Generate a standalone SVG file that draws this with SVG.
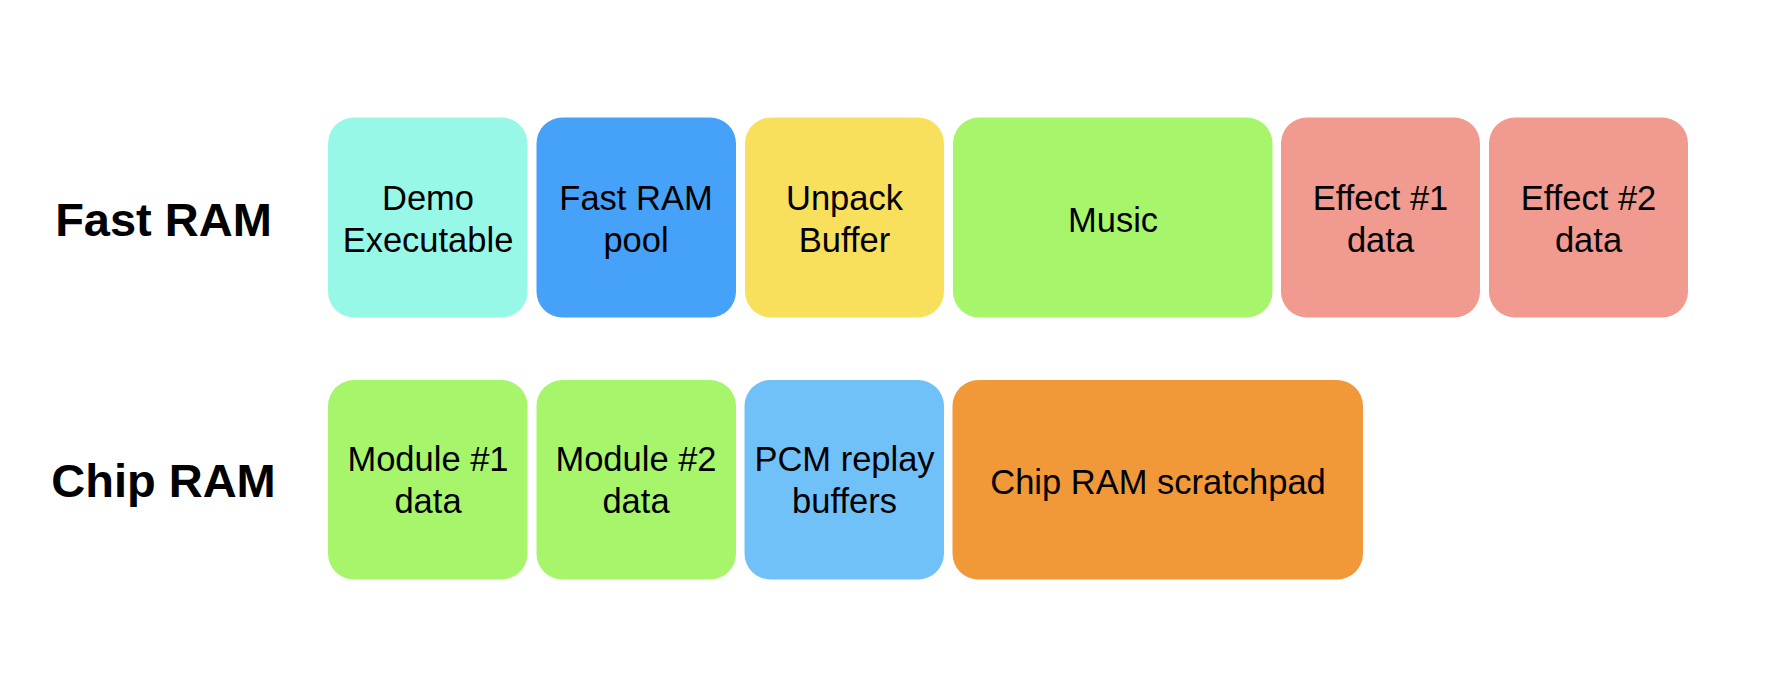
<svg xmlns="http://www.w3.org/2000/svg" width="1774" height="682" viewBox="0 0 1774 682">
<style>
.box{stroke:none}
.t{font-family:"Liberation Sans",Arial,Helvetica,sans-serif;font-size:34.5px;fill:#000;text-anchor:middle}
.lbl{font-family:"Liberation Sans",Arial,Helvetica,sans-serif;font-size:47px;font-weight:bold;fill:#000;text-anchor:middle}
</style>
<rect width="1774" height="682" fill="#ffffff"/>
<g id="label-fast"><text class="lbl" x="163.5" y="236">Fast RAM</text></g>
<g id="label-chip"><text class="lbl" x="163.5" y="496.5">Chip RAM</text></g>

<g id="demo-executable"><rect class="box" x="328" y="117.5" width="199.5" height="200" rx="26" fill="#98F8E8"/>
<text class="t" x="428" y="210">Demo</text><text class="t" x="428" y="251.5">Executable</text></g>
<g id="fast-ram-pool"><rect class="box" x="536.5" y="117.5" width="199.5" height="200" rx="26" fill="#46A2F8"/>
<text class="t" x="636" y="210">Fast RAM</text><text class="t" x="636" y="251.5">pool</text></g>
<g id="unpack-buffer"><rect class="box" x="745" y="117.5" width="199" height="200" rx="26" fill="#F8DF5C"/>
<text class="t" x="844.5" y="210">Unpack</text><text class="t" x="844.5" y="251.5">Buffer</text></g>
<g id="music"><rect class="box" x="953" y="117.5" width="319.5" height="200" rx="26" fill="#A7F56B"/>
<text class="t" x="1113" y="232">Music</text></g>
<g id="effect1-data"><rect class="box" x="1281" y="117.5" width="199" height="200" rx="26" fill="#F19A8F"/>
<text class="t" x="1380.5" y="210">Effect #1</text><text class="t" x="1380.5" y="251.5">data</text></g>
<g id="effect2-data"><rect class="box" x="1489" y="117.5" width="199" height="200" rx="26" fill="#F19A8F"/>
<text class="t" x="1588.5" y="210">Effect #2</text><text class="t" x="1588.5" y="251.5">data</text></g>

<g id="module1-data"><rect class="box" x="328" y="380" width="199.5" height="199.5" rx="26" fill="#A7F56B"/>
<text class="t" x="428" y="471">Module #1</text><text class="t" x="428" y="513">data</text></g>
<g id="module2-data"><rect class="box" x="536.5" y="380" width="199.5" height="199.5" rx="26" fill="#A7F56B"/>
<text class="t" x="636" y="471">Module #2</text><text class="t" x="636" y="513">data</text></g>
<g id="pcm-replay-buffers"><rect class="box" x="744.5" y="380" width="199.5" height="199.5" rx="26" fill="#71C1F9"/>
<text class="t" x="844.5" y="471">PCM replay</text><text class="t" x="844.5" y="513">buffers</text></g>
<g id="chip-ram-scratchpad"><rect class="box" x="952.5" y="380" width="410.5" height="199.5" rx="26" fill="#F19839"/>
<text class="t" x="1158" y="494">Chip RAM scratchpad</text></g>

<g id="connectors"></g>
</svg>
